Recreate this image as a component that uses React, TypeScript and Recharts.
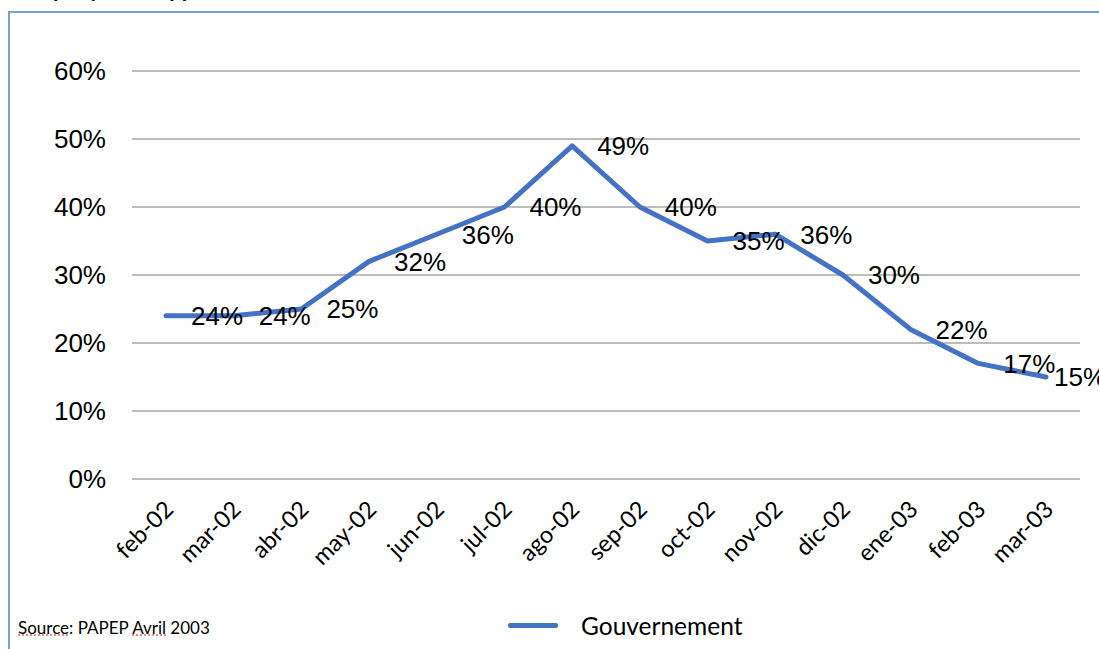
import React from "react";
import { LineChart, Line, XAxis, YAxis, CartesianGrid, LabelList } from "recharts";

// Monthly approval of the government, Feb 2002 – Mar 2003
const months = [
  "feb-02", "mar-02", "abr-02", "may-02", "jun-02", "jul-02", "ago-02",
  "sep-02", "oct-02", "nov-02", "dic-02", "ene-03", "feb-03", "mar-03",
];
const approval = [24, 24, 25, 32, 36, 40, 49, 40, 35, 36, 30, 22, 17, 15];
const yTicks = [0, 10, 20, 30, 40, 50, 60];
const seriesName = "Gouvernement";
const titleText = "Graphique 4 : Appréciation du Gouvernement";

const data = months.map((month, i) => ({ month, value: approval[i] }));

const LINE_COLOR = "#4472C4";
const GRID_COLOR = "#A6A6A6";
const ARIAL = "'Liberation Sans', Arial, sans-serif";
const BODY_FONT = "Lato, 'Open Sans', sans-serif";

const MonthTick = (props: any) => {
  const { x, y, payload } = props;
  const ax = x + 3;
  const ay = y + 18;
  return (
    <text
      x={ax}
      y={ay}
      dy="0.35em"
      textAnchor="end"
      transform={`rotate(-45, ${ax}, ${ay})`}
      fontFamily={BODY_FONT}
      fontSize={23.5}
      fill="#000"
    >
      {payload.value}
    </text>
  );
};

const ValueLabel = (props: any) => {
  const { x, y, value, index } = props;
  const last = index === approval.length - 1;
  return (
    <text
      x={x + (last ? 8 : 25)}
      y={y}
      dy="0.36em"
      textAnchor="start"
      fontFamily={ARIAL}
      fontSize={26}
      fill="#000"
    >
      {`${value}%`}
    </text>
  );
};

export default function App() {
  return (
    <div
      style={{
        position: "absolute",
        left: 0,
        top: 0,
        width: 1099,
        height: 649,
        overflow: "hidden",
        background: "#fff",
      }}
    >
      {/* heading, mostly above the visible frame */}
      <div
        style={{
          position: "absolute",
          left: 18,
          top: -22,
          fontFamily: BODY_FONT,
          fontWeight: 700,
          fontSize: 22,
          lineHeight: "22px",
          whiteSpace: "nowrap",
          color: "#000",
        }}
      >
        {titleText}
      </div>
      {/* chart frame */}
      <div
        style={{
          position: "absolute",
          left: 8,
          top: 11,
          width: 1200,
          height: 700,
          borderTop: "2px solid #7F9ED8",
          borderLeft: "2px solid #7F9ED8",
        }}
      />
      <div style={{ position: "absolute", left: 0, top: 0 }}>
        <LineChart
          width={1099}
          height={649}
          data={data}
          margin={{ top: 71, right: 19, bottom: 0, left: 0 }}
        >
          <CartesianGrid
            vertical={false}
            horizontal={true}
            stroke={GRID_COLOR}
            strokeWidth={1.5}
          />
          <XAxis
            dataKey="month"
            height={170}
            interval={0}
            padding={{ left: 34, right: 34 }}
            tickLine={false}
            axisLine={false}
            tick={<MonthTick />}
          />
          <YAxis
            width={132}
            domain={[0, 60]}
            ticks={yTicks}
            tickFormatter={(v: number) => `${v}%`}
            tickLine={false}
            axisLine={false}
            tickSize={0}
            tickMargin={26}
            tick={{ fontFamily: ARIAL, fontSize: 26, fill: "#000" }}
          />
          <Line
            type="linear"
            dataKey="value"
            name={seriesName}
            stroke={LINE_COLOR}
            strokeWidth={5}
            strokeLinejoin="round"
            strokeLinecap="round"
            dot={false}
            activeDot={false}
            isAnimationActive={false}
          >
            <LabelList dataKey="value" content={<ValueLabel />} />
          </Line>
        </LineChart>
      </div>
      {/* legend */}
      <div
        style={{
          position: "absolute",
          left: 508,
          top: 611,
          display: "flex",
          alignItems: "center",
          fontFamily: BODY_FONT,
          fontSize: 24.5,
          color: "#000",
        }}
      >
        <div style={{ width: 50, height: 5, background: LINE_COLOR, borderRadius: 2 }} />
        <span style={{ marginLeft: 23 }}>{seriesName}</span>
      </div>
      {/* source note */}
      <div
        style={{
          position: "absolute",
          left: 18,
          top: 617,
          fontFamily: BODY_FONT,
          fontSize: 17,
          color: "#000",
          whiteSpace: "nowrap",
        }}
      >
        <span style={{ textDecoration: "underline dotted #E06666" }}>Source</span>:{" "}
        PAPEP <span style={{ textDecoration: "underline dotted #E06666" }}>Avril</span> 2003
      </div>
    </div>
  );
}
